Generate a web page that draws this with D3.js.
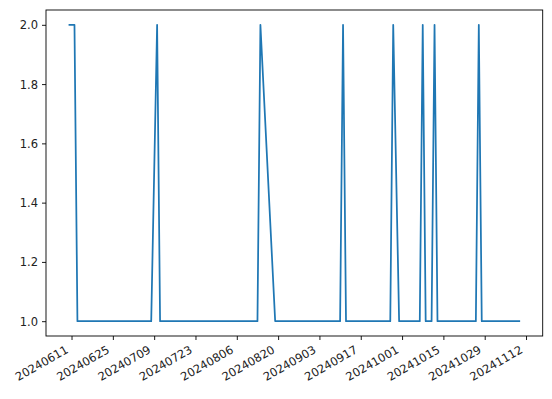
<!DOCTYPE html>
<html>
<head>
<meta charset="utf-8">
<script src="https://cdn.jsdelivr.net/npm/d3@7"></script>
<style>
  body { margin: 0; background: #fff; }
  text { font-family: "DejaVu Sans", sans-serif; font-size: 11.5px; fill: #222; }
</style>
</head>
<body>
<div id="chart"></div>
<script>
// dates where the signal changes, and its value there
var dates = ["20240610", "20240612", "20240613", "20240708", "20240710", "20240711",
             "20240813", "20240814", "20240819", "20240910", "20240911", "20240912",
             "20240927", "20240928", "20240930", "20241007", "20241008", "20241009",
             "20241011", "20241012", "20241013", "20241026", "20241027", "20241028",
             "20241110"];
var values = [2, 2, 1, 1, 2, 1,
              1, 2, 1, 1, 2, 1,
              1, 2, 1, 1, 2, 1,
              1, 2, 1, 1, 2, 1,
              1];
var xTickLabels = ["20240611", "20240625", "20240709", "20240723", "20240806", "20240820",
                   "20240903", "20240917", "20241001", "20241015", "20241029", "20241112"];
var yTicks = [1.0, 1.2, 1.4, 1.6, 1.8, 2.0];

var margin = {top: 10, right: 9.3, bottom: 63, left: 46},
    width = 552 - margin.left - margin.right,
    height = 399 - margin.top - margin.bottom;

var parse = d3.utcParse("%Y%m%d");
var data = dates.map(function(d, i) { return {date: parse(d), value: values[i]}; });

var svg = d3.select("#chart")
  .append("svg")
    .attr("width", 552)
    .attr("height", 399)
  .append("g")
    .attr("transform", "translate(" + margin.left + "," + margin.top + ")");

// matplotlib-style 5% padding on both axes
var xExt = d3.extent(data, function(d) { return +d.date; });
var xPad = (xExt[1] - xExt[0]) * 0.05;
var x = d3.scaleUtc()
  .domain([new Date(xExt[0] - xPad), new Date(xExt[1] + xPad)])
  .range([0, width]);

var y = d3.scaleLinear()
  .domain([0.95, 2.05])
  .range([height, 0]);

var xAxis = svg.append("g")
  .attr("transform", "translate(0," + height + ")")
  .call(d3.axisBottom(x)
    .tickValues(xTickLabels.map(parse))
    .tickFormat(d3.utcFormat("%Y%m%d"))
    .tickSize(4)
    .tickPadding(0));
xAxis.select(".domain").remove();
xAxis.selectAll(".tick line").attr("stroke", "#000").attr("stroke-width", 0.9);
xAxis.selectAll(".tick text")
  .attr("text-anchor", "end")
  .attr("y", 0)
  .attr("dy", 0)
  .attr("transform", "translate(-3,16) rotate(-30)");

var yAxis = svg.append("g")
  .call(d3.axisLeft(y)
    .tickValues(yTicks)
    .tickFormat(d3.format(".1f"))
    .tickSize(4)
    .tickPadding(4));
yAxis.select(".domain").remove();
yAxis.selectAll(".tick line").attr("stroke", "#000").attr("stroke-width", 0.9);
yAxis.selectAll(".tick text").attr("dy", "0.35em");

svg.append("path")
  .datum(data)
  .attr("fill", "none")
  .attr("stroke", "#1f77b4")
  .attr("stroke-width", 1.75)
  .attr("stroke-linejoin", "round")
  .attr("d", d3.line()
    .x(function(d) { return x(d.date); })
    .y(function(d) { return y(d.value); }));

svg.append("rect")
  .attr("width", width)
  .attr("height", height)
  .attr("fill", "none")
  .attr("stroke", "#000")
  .attr("stroke-width", 0.9);
</script>
</body>
</html>
